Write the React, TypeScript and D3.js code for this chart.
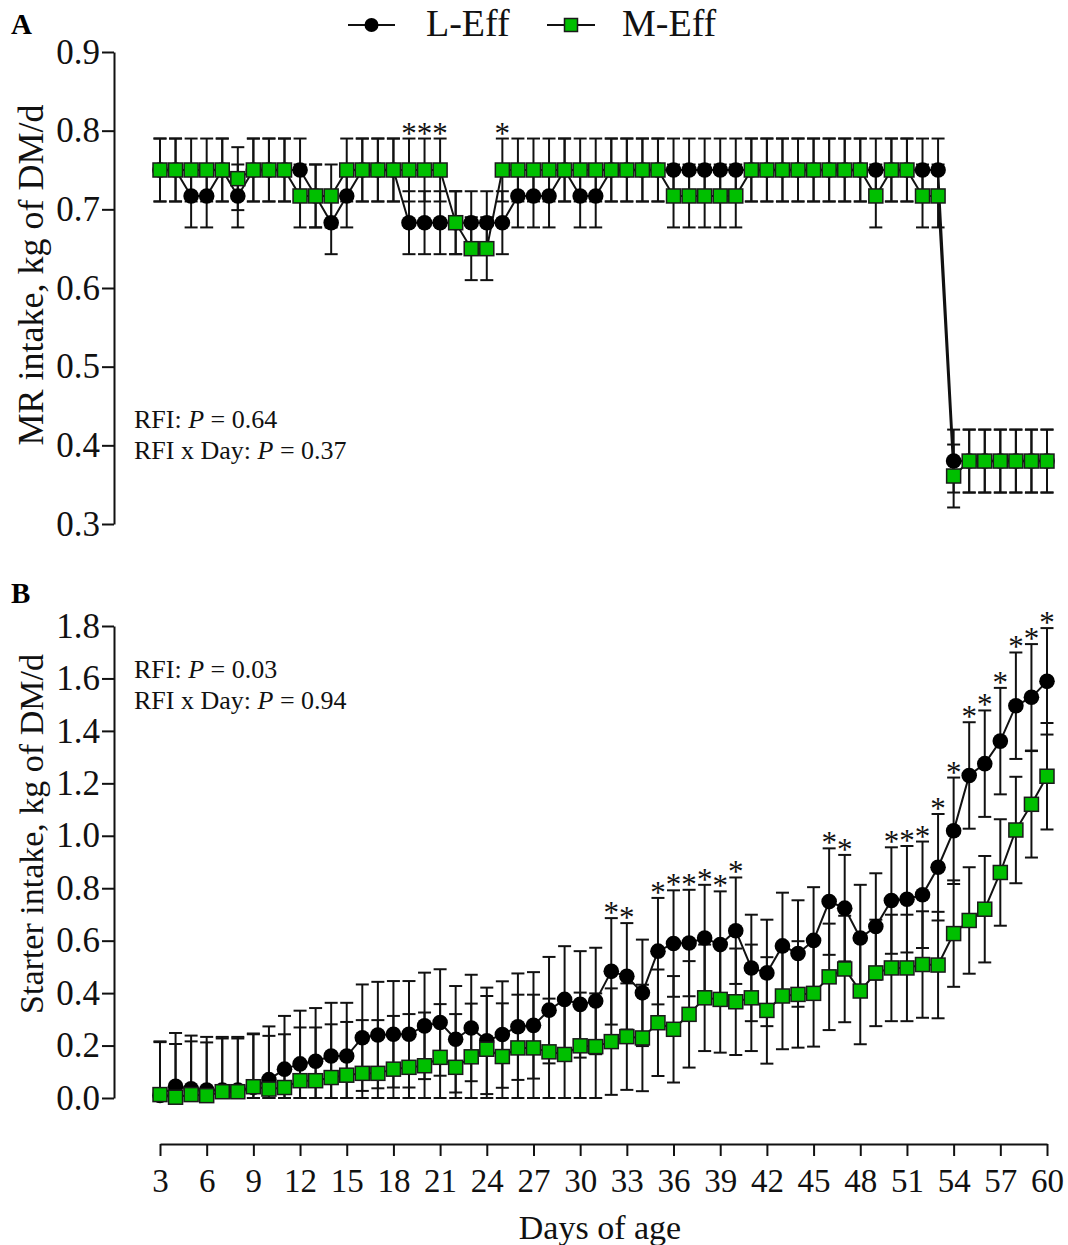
import React, { useEffect, useRef } from "react";
import * as d3 from "d3";

// days of age on the shared x axis
const days = [
  3, 4, 5, 6, 7, 8, 9, 10, 11, 12, 13, 14, 15, 16, 17, 18, 19, 20, 21, 22, 23, 24, 25, 26, 27, 28, 29, 30, 31,
  32, 33, 34, 35, 36, 37, 38, 39, 40, 41, 42, 43, 44, 45, 46, 47, 48, 49, 50, 51, 52, 53, 54, 55, 56, 57, 58, 59, 60,
];

// panel A: milk replacer intake (kg of DM/d)
const mrLEff = [
  0.75, 0.75, 0.717, 0.717, 0.75, 0.717, 0.75, 0.75, 0.75, 0.75, 0.717, 0.683, 0.717, 0.75, 0.75, 0.75, 0.683, 0.683,
  0.683, 0.683, 0.683, 0.683, 0.683, 0.717, 0.717, 0.717, 0.75, 0.717, 0.717, 0.75, 0.75, 0.75, 0.75, 0.75, 0.75, 0.75,
  0.75, 0.75, 0.75, 0.75, 0.75, 0.75, 0.75, 0.75, 0.75, 0.75, 0.75, 0.75, 0.75, 0.75, 0.75, 0.38, 0.38, 0.38, 0.38,
  0.38, 0.38, 0.38,
];
const mrMEff = [
  0.75, 0.75, 0.75, 0.75, 0.75, 0.739, 0.75, 0.75, 0.75, 0.717, 0.717, 0.717, 0.75, 0.75, 0.75, 0.75, 0.75, 0.75, 0.75,
  0.683, 0.65, 0.65, 0.75, 0.75, 0.75, 0.75, 0.75, 0.75, 0.75, 0.75, 0.75, 0.75, 0.75, 0.717, 0.717, 0.717, 0.717,
  0.717, 0.75, 0.75, 0.75, 0.75, 0.75, 0.75, 0.75, 0.75, 0.717, 0.75, 0.75, 0.717, 0.717, 0.361, 0.38, 0.38, 0.38, 0.38,
  0.38, 0.38,
];
const mrSE = 0.04;
const mrStars = [19, 20, 21, 25];

// panel B: starter intake (kg of DM/d)
const starterLEff = [
  0.01, 0.045, 0.035, 0.03, 0.03, 0.03, 0.04, 0.07, 0.11, 0.13, 0.14, 0.16, 0.16, 0.23, 0.24, 0.243, 0.243, 0.275,
  0.288, 0.224, 0.267, 0.218, 0.242, 0.272, 0.277, 0.335, 0.376, 0.357, 0.37, 0.483, 0.464, 0.401, 0.56, 0.589, 0.591,
  0.61, 0.585, 0.638, 0.496, 0.477, 0.58, 0.551, 0.601, 0.749, 0.724, 0.61, 0.654, 0.753, 0.758, 0.775, 0.88, 1.019,
  1.23, 1.275, 1.361, 1.496, 1.528, 1.589,
];
const starterMEff = [
  0.013, 0.003, 0.013, 0.009, 0.024, 0.024, 0.043, 0.034, 0.04, 0.066, 0.066, 0.078, 0.087, 0.094, 0.094, 0.11, 0.117,
  0.123, 0.155, 0.117, 0.157, 0.186, 0.158, 0.191, 0.191, 0.176, 0.166, 0.199, 0.196, 0.215, 0.234, 0.229, 0.287,
  0.262, 0.319, 0.382, 0.376, 0.367, 0.382, 0.334, 0.389, 0.395, 0.399, 0.462, 0.492, 0.408, 0.477, 0.496, 0.496,
  0.509, 0.507, 0.627, 0.677, 0.72, 0.86, 1.022, 1.12, 1.227,
];
const starterSE = 0.203;
const starterStars = [32, 33, 35, 36, 37, 38, 39, 40, 46, 47, 50, 51, 52, 53, 54, 55, 56, 57, 58, 59, 60];

const xTicks = [3, 6, 9, 12, 15, 18, 21, 24, 27, 30, 33, 36, 39, 42, 45, 48, 51, 54, 57, 60];
const mrTicks = [0.3, 0.4, 0.5, 0.6, 0.7, 0.8, 0.9];
const starterTicks = [0, 0.2, 0.4, 0.6, 0.8, 1.0, 1.2, 1.4, 1.6, 1.8];

const FONT = "'Liberation Serif', 'Times New Roman', serif";
const GREEN = "#00bf00";

function App() {
  const svgRef = useRef(null);

  useEffect(() => {
    const svg = d3.select(svgRef.current);
    svg.selectAll("*").remove();
    svg.style("font-family", FONT);

    const axisX = 114;
    const x = d3.scaleLinear().domain([3, 60]).range([160, 1047]);

    function drawPanel(p) {
      const y = d3.scaleLinear().domain(p.domain).range(p.range);
      const g = svg.append("g");

      // y axis
      const ax = g
        .append("g")
        .attr("transform", `translate(${axisX},0)`)
        .call(d3.axisLeft(y).tickValues(p.ticks).tickFormat(d3.format(".1f")).tickSize(12).tickSizeOuter(0).tickPadding(2));
      ax.selectAll("path,line").attr("stroke", "#111").attr("stroke-width", 2);
      ax.selectAll("text").attr("font-family", FONT).attr("font-size", 35).attr("fill", "#111");

      // y axis title
      g.append("text")
        .attr("transform", `translate(43,${p.titleY}) rotate(-90)`)
        .attr("text-anchor", "middle")
        .attr("font-size", p.titleSize)
        .attr("fill", "#111")
        .text(p.title);

      // panel letter
      g.append("text").attr("x", 11).attr("y", p.letterY).attr("font-size", 29).attr("font-weight", "bold").text(p.letter);

      // stats note
      p.notes.forEach((n, i) => {
        const t = g.append("text").attr("x", 134).attr("y", p.noteY + i * 31).attr("font-size", 26).attr("fill", "#111");
        t.append("tspan").text(n[0]);
        t.append("tspan").attr("font-style", "italic").text("P");
        t.append("tspan").text(n[1]);
      });

      const series = [p.black, p.green];
      const lo = p.domain[0];

      // error bars
      series.forEach((vals) => {
        days.forEach((d, i) => {
          const top = y(vals[i] + p.se);
          const bot = y(Math.max(vals[i] - p.se, lo));
          const cx = x(d);
          g.append("line").attr("x1", cx).attr("x2", cx).attr("y1", top).attr("y2", bot).attr("stroke", "#111").attr("stroke-width", 2);
          [top, bot].forEach((yy) =>
            g.append("line").attr("x1", cx - 6.5).attr("x2", cx + 6.5).attr("y1", yy).attr("y2", yy).attr("stroke", "#111").attr("stroke-width", 2)
          );
        });
      });

      // connecting lines
      const line = d3
        .line()
        .x((d) => x(d[0]))
        .y((d) => y(d[1]));
      series.forEach((vals) => {
        g.append("path")
          .datum(days.map((d, i) => [d, vals[i]]))
          .attr("d", line)
          .attr("fill", "none")
          .attr("stroke", "#111")
          .attr("stroke-width", 2);
      });

      // markers
      g.selectAll(".dot")
        .data(days)
        .enter()
        .append("circle")
        .attr("cx", (d) => x(d))
        .attr("cy", (d, i) => y(p.black[i]))
        .attr("r", 7.8)
        .attr("fill", "#000");
      g.selectAll(".sq")
        .data(days)
        .enter()
        .append("rect")
        .attr("x", (d) => x(d) - 7)
        .attr("y", (d, i) => y(p.green[i]) - 7)
        .attr("width", 14)
        .attr("height", 14)
        .attr("fill", GREEN)
        .attr("stroke", "#1a1a1a")
        .attr("stroke-width", 1.5);

      // significance stars
      p.stars.forEach((d) => {
        const i = days.indexOf(d);
        const hi = Math.max(p.black[i], p.green[i]) + p.se;
        g.append("text")
          .attr("x", x(d))
          .attr("y", y(hi) + 5)
          .attr("text-anchor", "middle")
          .attr("font-size", 31)
          .attr("fill", "#111")
          .text("*");
      });
    }

    drawPanel({
      domain: [0.3, 0.9],
      range: [524, 52],
      ticks: mrTicks,
      title: "MR intake, kg of DM/d",
      titleY: 275,
      titleSize: 36,
      letter: "A",
      letterY: 34,
      notes: [
        ["RFI: ", " = 0.64"],
        ["RFI x Day: ", " = 0.37"],
      ],
      noteY: 428,
      black: mrLEff,
      green: mrMEff,
      se: mrSE,
      stars: mrStars,
    });

    drawPanel({
      domain: [0, 1.8],
      range: [1098, 626],
      ticks: starterTicks,
      title: "Starter intake, kg of DM/d",
      titleY: 834,
      titleSize: 34,
      letter: "B",
      letterY: 603,
      notes: [
        ["RFI: ", " = 0.03"],
        ["RFI x Day: ", " = 0.94"],
      ],
      noteY: 678,
      black: starterLEff,
      green: starterMEff,
      se: starterSE,
      stars: starterStars,
    });

    // x axis
    const xa = svg
      .append("g")
      .attr("transform", "translate(0,1144)")
      .call(d3.axisBottom(x).tickValues(xTicks).tickFormat(d3.format("d")).tickSize(12).tickSizeOuter(0).tickPadding(13));
    xa.selectAll("path,line").attr("stroke", "#111").attr("stroke-width", 2);
    xa.selectAll("text").attr("font-family", FONT).attr("font-size", 33).attr("fill", "#111");

    svg.append("text")
      .attr("x", 600)
      .attr("y", 1239)
      .attr("text-anchor", "middle")
      .attr("font-size", 34)
      .attr("fill", "#111")
      .text("Days of age");

    // legend
    const leg = svg.append("g");
    leg.append("line").attr("x1", 348).attr("x2", 395).attr("y1", 25).attr("y2", 25).attr("stroke", "#111").attr("stroke-width", 2);
    leg.append("circle").attr("cx", 371.5).attr("cy", 25).attr("r", 7).attr("fill", "#000");
    leg.append("text").attr("x", 426).attr("y", 36).attr("font-size", 38).attr("fill", "#111").text("L-Eff");
    leg.append("line").attr("x1", 547).attr("x2", 595).attr("y1", 25).attr("y2", 25).attr("stroke", "#111").attr("stroke-width", 2);
    leg.append("rect").attr("x", 564.5).attr("y", 18.5).attr("width", 13).attr("height", 13).attr("fill", GREEN).attr("stroke", "#1a1a1a").attr("stroke-width", 1.5);
    leg.append("text").attr("x", 622).attr("y", 36).attr("font-size", 38).attr("fill", "#111").text("M-Eff");
  }, []);

  return (
    <div>
      <svg ref={svgRef} width={1068} height={1245} style={{ position: "absolute", left: 0, top: 0, background: "#fff" }}></svg>
    </div>
  );
}

export default App;
